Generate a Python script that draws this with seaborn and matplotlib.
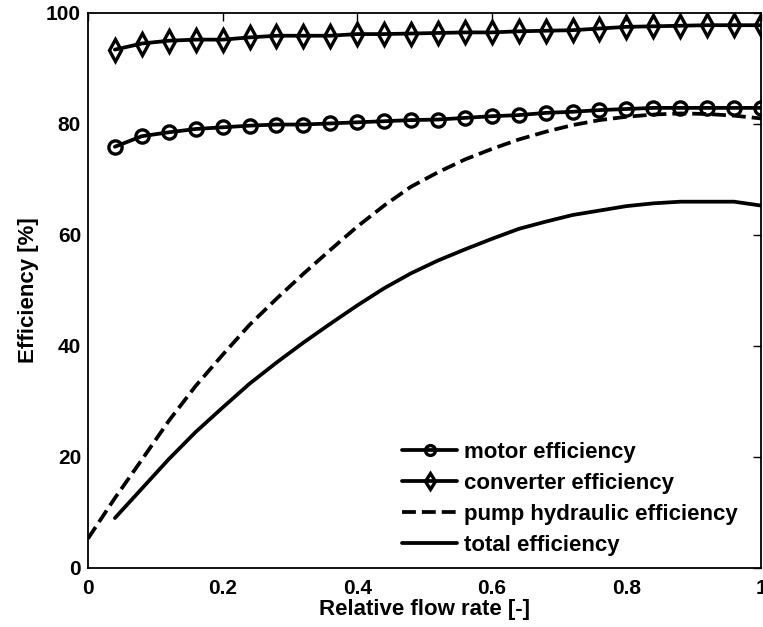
import numpy as np
import pandas as pd
import seaborn as sns
import matplotlib
matplotlib.use("Agg")
import matplotlib.pyplot as plt

# Relative flow rate sample points
flow = [0.04, 0.08, 0.12, 0.16, 0.20, 0.24, 0.28, 0.32, 0.36, 0.40, 0.44, 0.48, 0.52,
        0.56, 0.60, 0.64, 0.68, 0.72, 0.76, 0.80, 0.84, 0.88, 0.92, 0.96, 1.00]
flow_pump = [0.00] + flow

motor_eff = [75.9, 77.8, 78.5, 79.1, 79.4, 79.7, 79.9, 79.9, 80.1, 80.3, 80.5, 80.7, 80.8,
             81.1, 81.4, 81.6, 82.0, 82.2, 82.5, 82.7, 82.9, 82.9, 82.9, 82.9, 82.9]
converter_eff = [93.4, 94.5, 95.0, 95.2, 95.2, 95.6, 95.9, 95.9, 95.9, 96.2, 96.2, 96.3, 96.4,
                 96.5, 96.5, 96.7, 96.8, 96.9, 97.2, 97.5, 97.6, 97.7, 97.8, 97.8, 97.8]
pump_eff = [5.3, 12.6, 19.5, 26.5, 32.8, 38.4, 43.8, 48.5, 53.0, 57.3, 61.5, 65.3, 68.7, 71.3,
            73.6, 75.5, 77.2, 78.6, 79.8, 80.7, 81.3, 81.7, 81.9, 81.8, 81.5, 81.0]
total_eff = [9.0, 14.3, 19.6, 24.5, 28.9, 33.2, 37.0, 40.6, 44.0, 47.3, 50.4, 53.1, 55.4,
             57.4, 59.3, 61.1, 62.4, 63.6, 64.4, 65.2, 65.7, 66.0, 66.0, 66.0, 65.3]

labels = ["motor efficiency", "converter efficiency",
          "pump hydraulic efficiency", "total efficiency"]
x_ticks = [0, 0.2, 0.4, 0.6, 0.8, 1]
x_tick_labels = ["0", "0.2", "0.4", "0.6", "0.8", "1"]
y_ticks = [0, 20, 40, 60, 80, 100]

sns.set_style("white")
plt.rcParams["font.family"] = ["Liberation Sans", "DejaVu Sans"]
plt.rcParams["font.weight"] = "bold"
plt.rcParams["text.color"] = "black"
plt.rcParams["axes.labelcolor"] = "black"
plt.rcParams["xtick.color"] = "black"
plt.rcParams["ytick.color"] = "black"

fig = plt.figure(figsize=(7.63, 6.27), dpi=100)
ax = fig.add_axes([0.1153, 0.0941, 0.8821, 0.8852])

line_kw = dict(color="black", linewidth=2.7, ax=ax)
sns.lineplot(x=flow, y=motor_eff, marker="o", markersize=9.5, markerfacecolor="none",
             markeredgecolor="black", markeredgewidth=2.4, label=labels[0], **line_kw)
sns.lineplot(x=flow, y=converter_eff, marker="d", markersize=11, markerfacecolor="none",
             markeredgecolor="black", markeredgewidth=2.4, label=labels[1], **line_kw)
sns.lineplot(x=flow_pump, y=pump_eff, linestyle="--", label=labels[2], **line_kw)
sns.lineplot(x=flow, y=total_eff, label=labels[3], **line_kw)

ax.set_xlim(0, 1)
ax.set_ylim(0, 100)
ax.set_xticks(x_ticks)
ax.set_xticklabels(x_tick_labels)
ax.set_yticks(y_ticks)
ax.tick_params(direction="in", length=6, width=1, top=True, right=True,
               labelsize=15, colors="black")
ax.tick_params(axis="x", pad=8)
ax.tick_params(axis="y", pad=5)
for lab in ax.get_xticklabels() + ax.get_yticklabels():
    lab.set_fontweight("bold")
for sp in ax.spines.values():
    sp.set_linewidth(1.3)
    sp.set_color("black")

ax.set_xlabel("Relative flow rate [-]", fontsize=16, fontweight="bold", labelpad=1)
ax.set_ylabel("Efficiency [%]", fontsize=16, fontweight="bold", labelpad=5)

leg = ax.legend(loc="lower left", bbox_to_anchor=(0.453, 0.006), borderaxespad=0,
                frameon=False, handlelength=2.5, handletextpad=0.3, labelspacing=0.45,
                markerscale=0.75, prop={"weight": "bold", "size": 16})
for t in leg.get_texts():
    t.set_color("black")

fig.savefig("out.png", dpi=100, facecolor="white")
